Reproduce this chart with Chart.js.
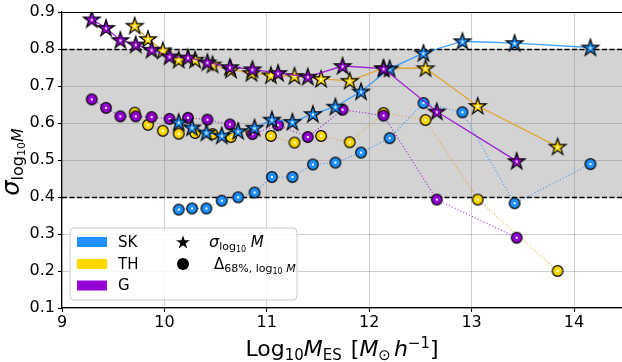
<!DOCTYPE html>
<html><head><meta charset="utf-8">
<script src="https://cdn.jsdelivr.net/npm/chart.js@4/dist/chart.umd.min.js"></script>
<style>html,body{margin:0;padding:0;background:#fff;overflow:hidden}#wrap{width:622px;height:362px;overflow:hidden}</style>
</head><body><div id="wrap"><canvas id="c" width="650" height="362"></canvas></div>
<script>
// ---- data ----
const surveyNames = ['SK', 'TH', 'G'];

const skX     = [10.14, 10.27, 10.41, 10.56, 10.72, 10.88, 11.05, 11.25, 11.45, 11.67, 11.92, 12.20, 12.53, 12.91, 13.42, 14.16];
const skSigma = [0.602, 0.588, 0.574, 0.566, 0.578, 0.587, 0.609, 0.603, 0.624, 0.644, 0.685, 0.747, 0.789, 0.821, 0.816, 0.804];
const skDelta = [0.366, 0.369, 0.369, 0.390, 0.399, 0.412, 0.454, 0.454, 0.488, 0.493, 0.520, 0.559, 0.654, 0.629, 0.383, 0.489];

const thX     = [9.71, 9.84, 9.985, 10.14, 10.30, 10.47, 10.65, 10.85, 11.04, 11.27, 11.53, 11.81, 12.14, 12.55, 13.06, 13.84];
const thSigma = [0.863, 0.827, 0.796, 0.771, 0.771, 0.758, 0.744, 0.735, 0.729, 0.727, 0.719, 0.714, 0.748, 0.748, 0.646, 0.536];
const thDelta = [0.628, 0.595, 0.579, 0.571, 0.573, 0.570, 0.562, 0.575, 0.565, 0.547, 0.565, 0.548, 0.627, 0.608, 0.393, 0.200];

const gX      = [9.29, 9.43, 9.57, 9.72, 9.875, 10.05, 10.23, 10.42, 10.64, 10.86, 11.11, 11.40, 11.74, 12.14, 12.66, 13.44];
const gSigma  = [0.880, 0.857, 0.824, 0.812, 0.798, 0.780, 0.777, 0.764, 0.751, 0.745, 0.735, 0.725, 0.754, 0.747, 0.631, 0.497];
const gDelta  = [0.664, 0.641, 0.618, 0.618, 0.616, 0.611, 0.614, 0.609, 0.596, 0.570, 0.594, 0.562, 0.636, 0.620, 0.393, 0.290];

const xTicks = [9, 10, 11, 12, 13, 14];
const yTicks = [0.1, 0.2, 0.3, 0.4, 0.5, 0.6, 0.7, 0.8, 0.9];
const bandLow = 0.4, bandHigh = 0.8;

// ---- styles ----
const FONT = "'DejaVu Sans', sans-serif";
const COL = { SK: '#1E90FF', TH: '#FFD700', G: '#9400D3' };
const LINE = { SK: 'rgba(30,144,255,0.85)', TH: 'rgba(228,160,32,0.9)', G: 'rgba(148,0,211,0.85)' };
const DOT  = { SK: 'rgba(30,144,255,0.7)', TH: 'rgba(228,160,32,0.7)', G: 'rgba(148,0,211,0.7)' };
const PX_PER_UNIT = 102.4;   // horizontal scale of the reference plot

function starPath(ctx, cx, cy, R) {
  const r = R * 0.381966;
  ctx.beginPath();
  for (let i = 0; i < 10; i++) {
    const a = -Math.PI / 2 + i * Math.PI / 5;
    const rr = i % 2 === 0 ? R : r;
    const px = cx + rr * Math.cos(a), py = cy + rr * Math.sin(a);
    if (i === 0) ctx.moveTo(px, py); else ctx.lineTo(px, py);
  }
  ctx.closePath();
}
function starImg(color) {
  const c = document.createElement('canvas'); c.width = 22; c.height = 22;
  const g = c.getContext('2d');
  starPath(g, 11, 11.5, 8.8);
  g.fillStyle = color; g.fill();
  g.lineWidth = 1.2; g.strokeStyle = '#000'; g.lineJoin = 'miter'; g.stroke();
  g.fillStyle = '#fff'; g.fillRect(10, 10.5, 2, 2);
  return c;
}
function circImg(color) {
  const c = document.createElement('canvas'); c.width = 16; c.height = 16;
  const g = c.getContext('2d');
  g.beginPath(); g.arc(8, 8, 5.3, 0, Math.PI * 2);
  g.fillStyle = color; g.fill();
  g.lineWidth = 1.2; g.strokeStyle = '#000'; g.stroke();
  g.fillStyle = '#fff'; g.fillRect(7, 7, 2, 2);
  return c;
}
const pts = (xs, ys) => xs.map((x, i) => ({ x: x, y: ys[i] }));

function starSet(name, xs, ys) {
  return { label: name + ' sigma', data: pts(xs, ys), showLine: true, borderColor: LINE[name], borderWidth: 1.3,
    pointStyle: starImg(COL[name]), pointRadius: 9, pointHoverRadius: 9, tension: 0 };
}
function circSet(name, xs, ys) {
  return { label: name + ' delta', data: pts(xs, ys), showLine: true, borderColor: DOT[name], borderWidth: 1.2,
    borderDash: [1.2, 2], pointStyle: circImg(COL[name]), pointRadius: 6, pointHoverRadius: 6, tension: 0 };
}
// first = drawn on top
const datasets = [
  starSet('G', gX, gSigma),
  starSet('SK', skX, skSigma),
  starSet('TH', thX, thSigma),
  circSet('G', gX, gDelta),
  circSet('SK', skX, skDelta),
  circSet('TH', thX, thDelta)
];

function fontStr(s) { return (s.it ? 'italic ' : '') + s.size + 'px ' + FONT; }
function richText(ctx, segs, x, y, align) {
  let w = 0;
  segs.forEach(s => { ctx.font = fontStr(s); s.w = ctx.measureText(s.t).width + (s.gap || 0); w += s.w; });
  let cx = align === 'center' ? x - w / 2 : x;
  ctx.textBaseline = 'alphabetic'; ctx.textAlign = 'left';
  segs.forEach(s => { ctx.font = fontStr(s); ctx.fillText(s.t, cx, y + (s.dy || 0)); cx += s.w; });
}

const decor = {
  id: 'decor',
  beforeDraw(chart) {
    const { ctx, chartArea: a, scales: { y } } = chart;
    ctx.save();
    ctx.fillStyle = '#fff'; ctx.fillRect(0, 0, chart.width, chart.height);
    const yH = y.getPixelForValue(bandHigh), yL = y.getPixelForValue(bandLow);
    ctx.fillStyle = '#d3d3d3';
    ctx.fillRect(a.left, yH, a.right - a.left, yL - yH);
    ctx.restore();
  },
  beforeDatasetsDraw(chart) {
    const { ctx, chartArea: a, scales: { y } } = chart;
    ctx.save();
    ctx.strokeStyle = '#000'; ctx.lineWidth = 1.3; ctx.setLineDash([5, 2.5]);
    [bandHigh, bandLow].forEach(v => {
      const py = Math.round(y.getPixelForValue(v)) + 0.5;
      ctx.beginPath(); ctx.moveTo(a.left, py); ctx.lineTo(a.right, py); ctx.stroke();
    });
    ctx.setLineDash([]);
    ctx.lineWidth = 1.2;
    ctx.beginPath(); ctx.moveTo(a.left, a.top + 0.5); ctx.lineTo(a.right, a.top + 0.5); ctx.stroke();
    ctx.restore();
  },
  afterDraw(chart) {
    const { ctx } = chart;
    ctx.save();
    ctx.fillStyle = '#000';
    // x title
    richText(ctx, [
      { t: 'Log', size: 22 }, { t: '10', size: 15, dy: 4 }, { t: 'M', size: 22, it: true },
      { t: 'ES', size: 15, dy: 4, gap: 2 }, { t: ' [', size: 22 }, { t: 'M', size: 22, it: true },
      { t: '⊙', size: 15, dy: 4, gap: 3 }, { t: 'h', size: 22, it: true },
      { t: '−1', size: 15, dy: -8 }, { t: ']', size: 22 }
    ], 342, 356, 'center');
    // y title
    ctx.save();
    ctx.translate(19, 162); ctx.rotate(-Math.PI / 2);
    richText(ctx, [
      { t: 'σ', size: 24, it: true }, { t: 'log', size: 16, dy: 4 }, { t: '10', size: 11, dy: 6 },
      { t: 'M', size: 16, it: true, dy: 4 }
    ], 0, 0, 'center');
    ctx.restore();
    // legend
    const lx = 70, ly = 228, lw = 227, lh = 72, rad = 4;
    ctx.beginPath();
    ctx.moveTo(lx + rad, ly); ctx.lineTo(lx + lw - rad, ly); ctx.quadraticCurveTo(lx + lw, ly, lx + lw, ly + rad);
    ctx.lineTo(lx + lw, ly + lh - rad); ctx.quadraticCurveTo(lx + lw, ly + lh, lx + lw - rad, ly + lh);
    ctx.lineTo(lx + rad, ly + lh); ctx.quadraticCurveTo(lx, ly + lh, lx, ly + lh - rad);
    ctx.lineTo(lx, ly + rad); ctx.quadraticCurveTo(lx, ly, lx + rad, ly); ctx.closePath();
    ctx.fillStyle = 'rgba(255,255,255,0.85)'; ctx.fill();
    ctx.strokeStyle = '#cccccc'; ctx.lineWidth = 1; ctx.stroke();
    const rows = [242, 264, 285.5];
    surveyNames.forEach((n, i) => {
      ctx.fillStyle = COL[n];
      ctx.fillRect(77, rows[i] - 5, 30, 10);
      ctx.fillStyle = '#000'; ctx.font = '15px ' + FONT; ctx.textBaseline = 'middle'; ctx.textAlign = 'left';
      ctx.fillText(n, 118, rows[i] + 1);
    });
    ctx.fillStyle = '#000';
    starPath(ctx, 183, rows[0] + 0.5, 7.3); ctx.fill();
    ctx.beginPath(); ctx.arc(183, rows[1], 6, 0, Math.PI * 2); ctx.fill();
    richText(ctx, [
      { t: 'σ', size: 16, it: true }, { t: 'log', size: 11, dy: 3 }, { t: '10', size: 8, dy: 5 },
      { t: ' M', size: 15, it: true }
    ], 209, rows[0] + 5, 'left');
    richText(ctx, [
      { t: 'Δ', size: 15 }, { t: '68%, log', size: 11, dy: 3 }, { t: '10', size: 8, dy: 5 },
      { t: ' M', size: 11, it: true, dy: 3 }
    ], 214, rows[1] + 5, 'left');
    ctx.restore();
  }
};

const gridColor = 'rgba(128,128,128,0.38)';
const chart = new Chart(document.getElementById('c').getContext('2d'), {
  type: 'scatter',
  data: { datasets: datasets },
  options: {
    responsive: false, animation: false, devicePixelRatio: 1,
    layout: { padding: { top: 12, right: 0, left: 0, bottom: 0 } },
    plugins: { legend: { display: false }, tooltip: { enabled: false } },
    events: [],
    scales: {
      x: {
        type: 'linear', min: 9, max: 14.7,
        afterBuildTicks: s => { s.ticks = xTicks.map(v => ({ value: v })); },
        afterFit: s => { s.height = 54; s.paddingRight = 0; s.paddingLeft = 0; },
        grid: { color: gridColor, lineWidth: 1, tickLength: 4, tickColor: '#000', tickWidth: 1.1 },
        border: { color: '#000', width: 1.2 },
        ticks: { font: { family: FONT, size: 16 }, color: '#000', padding: 1, maxRotation: 0, autoSkip: false,
          callback: v => String(v) }
      },
      y: {
        type: 'linear', min: 0.1, max: 0.9,
        afterBuildTicks: s => { s.ticks = yTicks.map(v => ({ value: v })); },
        afterFit: s => { s.width = 62; s.paddingTop = 0; s.paddingBottom = 0; },
        grid: { color: gridColor, lineWidth: 1, tickLength: 4, tickColor: '#000', tickWidth: 1.1 },
        border: { color: '#000', width: 1.2 },
        ticks: { font: { family: FONT, size: 16 }, color: '#000', padding: 3, autoSkip: false,
          callback: v => Number(v).toFixed(1) }
      }
    }
  },
  plugins: [decor]
});
// match the reference horizontal scale: the plot is wider than the window and is cut at its right edge
const a = chart.chartArea;
chart.options.scales.x.max = 9 + (a.right - a.left) / PX_PER_UNIT;
chart.update('none');
</script>
</body></html>
